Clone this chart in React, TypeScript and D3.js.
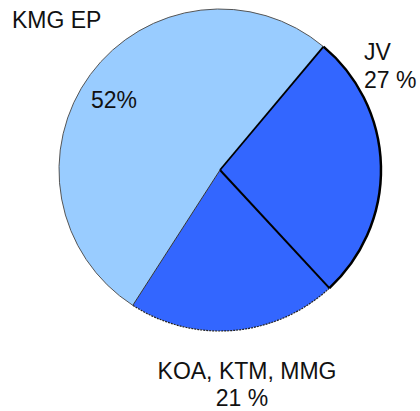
import React, { useRef, useEffect } from 'react';
import * as d3 from 'd3';

const labels = ['KMG EP', 'JV', 'KOA, KTM, MMG'];
const values = [52, 27, 21];
const pctLabels = ['52%', '27 %', '21 %'];

const App = () => {
  const svgRef = useRef<SVGSVGElement>(null);

  useEffect(() => {
    const svg = d3.select(svgRef.current);
    svg.selectAll('*').remove();

    const width = 420;
    const height = 411;
    const cx = 220;
    const cy = 170;
    const radius = 161;
    const startDeg = 40;

    const data = labels.map((l, i) => ({ label: l, value: values[i] }));
    const colors = d3.scaleOrdinal<string>().domain(labels).range(['#99ccff', '#3366ff', '#3366ff']);

    // start from JV so the slices run clockwise like the original
    const ordered = [data[1], data[2], data[0]];
    const pie = d3
      .pie<any>()
      .sort(null)
      .value(d => d.value)
      .startAngle((startDeg * Math.PI) / 180)
      .endAngle((startDeg * Math.PI) / 180 + 2 * Math.PI);
    const arcs = pie(ordered);
    const arc = d3.arc<any>().innerRadius(0).outerRadius(radius);

    const g = svg.append('g').attr('transform', `translate(${cx},${cy})`);

    g.selectAll('path.slice')
      .data(arcs)
      .enter()
      .append('path')
      .attr('class', 'slice')
      .attr('d', arc)
      .attr('fill', d => colors(d.data.label))
      .attr('stroke', 'none');

    // outer borders
    const borderStyle: Record<string, [string, number, string | null]> = {
      'KMG EP': ['#555', 1, null],
      JV: ['#000', 2.5, null],
      'KOA, KTM, MMG': ['#222', 1.2, '2,1'],
    };
    arcs.forEach(a => {
      const [col, w, dash] = borderStyle[a.data.label];
      const p = d3.path();
      p.arc(0, 0, radius, a.startAngle - Math.PI / 2, a.endAngle - Math.PI / 2);
      g.append('path')
        .attr('d', p.toString())
        .attr('fill', 'none')
        .attr('stroke', col)
        .attr('stroke-width', w)
        .attr('stroke-dasharray', dash);
    });

    // radial separators
    const radial = [
      { angle: arcs[0].startAngle, col: '#000', w: 1.8 },
      { angle: arcs[0].endAngle, col: '#000', w: 2 },
      { angle: arcs[1].endAngle, col: '#333', w: 1 },
    ];
    radial.forEach(r => {
      g.append('line')
        .attr('x1', 0)
        .attr('y1', 0)
        .attr('x2', radius * Math.sin(r.angle))
        .attr('y2', -radius * Math.cos(r.angle))
        .attr('stroke', r.col)
        .attr('stroke-width', r.w);
    });

    const font = 'Liberation Sans, Arial, sans-serif';
    const txt = (x: number, y: number, s: string, anchor = 'start') =>
      svg
        .append('text')
        .attr('x', x)
        .attr('y', y)
        .attr('text-anchor', anchor)
        .attr('font-family', font)
        .attr('font-size', 23)
        .attr('fill', '#111')
        .text(s);

    txt(12, 28, labels[0]);
    txt(91, 108, pctLabels[0]);
    txt(364, 60, labels[1]);
    txt(364, 88, pctLabels[1]);
    txt(247, 379, labels[2], 'middle');
    txt(242, 406, pctLabels[2], 'middle');

    svg.attr('width', width).attr('height', height);
  }, []);

  return (
    <svg
      ref={svgRef}
      width={420}
      height={411}
      style={{ position: 'absolute', left: 0, top: 0, background: '#fff' }}
    />
  );
};

export default App;
